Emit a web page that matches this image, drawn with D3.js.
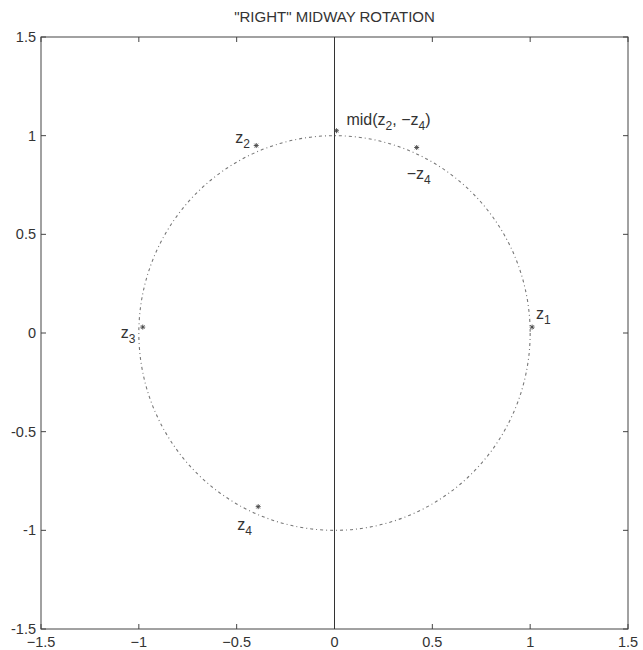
<!DOCTYPE html>
<html>
<head>
<meta charset="utf-8">
<script src="https://cdn.jsdelivr.net/npm/d3@7"></script>
<style>
  body { margin: 0; background: #fff; }
  text { font-family: "Liberation Sans", Arial, Helvetica, sans-serif; fill: #333; }
</style>
</head>
<body>
<svg id="chart" width="643" height="650"></svg>
<script>
// Axis limits and tick values
const xDomain = [-1.5, 1.5];
const yDomain = [-1.5, 1.5];
const xTicks = [-1.5, -1, -0.5, 0, 0.5, 1, 1.5];
const yTicks = [-1.5, -1, -0.5, 0, 0.5, 1, 1.5];
const xTickLabels = ["\u22121.5", "\u22121", "\u22120.5", "0", "0.5", "1", "1.5"];
const yTickLabels = ["-1.5", "-1", "-0.5", "0", "0.5", "1", "1.5"];

// Unit circle (centre and radius)
const circleCentre = [0, 0];
const circleRadius = 1;

// Marked points and their labels
const pointNames = ["z1", "z2", "z3", "z4", "-z4", "mid"];
const pointX = [1.01, -0.40, -0.98, -0.39, 0.42, 0.01];
const pointY = [0.03, 0.95, 0.03, -0.88, 0.94, 1.025];

const title = "\"RIGHT\" MIDWAY ROTATION";

const svg = d3.select("#chart");
const margin = { left: 41, right: 15, top: 37, bottom: 21 };
const W = 643, H = 650;

const x = d3.scaleLinear().domain(xDomain).range([margin.left, W - margin.right]);
const y = d3.scaleLinear().domain(yDomain).range([H - margin.bottom, margin.top]);

const axisColor = "#444";

// Frame
svg.append("rect")
  .attr("x", x(xDomain[0])).attr("y", y(yDomain[1]))
  .attr("width", x(xDomain[1]) - x(xDomain[0]))
  .attr("height", y(yDomain[0]) - y(yDomain[1]))
  .attr("fill", "none").attr("stroke", axisColor).attr("stroke-width", 1);

// Inward ticks on all four sides
const tl = 5;
const gx = svg.append("g");
xTicks.forEach(t => {
  gx.append("line").attr("x1", x(t)).attr("x2", x(t))
    .attr("y1", y(yDomain[0])).attr("y2", y(yDomain[0]) - tl)
    .attr("stroke", axisColor);
  gx.append("line").attr("x1", x(t)).attr("x2", x(t))
    .attr("y1", y(yDomain[1])).attr("y2", y(yDomain[1]) + tl)
    .attr("stroke", axisColor);
});
yTicks.forEach(t => {
  gx.append("line").attr("y1", y(t)).attr("y2", y(t))
    .attr("x1", x(xDomain[0])).attr("x2", x(xDomain[0]) + tl)
    .attr("stroke", axisColor);
  gx.append("line").attr("y1", y(t)).attr("y2", y(t))
    .attr("x1", x(xDomain[1])).attr("x2", x(xDomain[1]) - tl)
    .attr("stroke", axisColor);
});

// Tick labels
svg.append("g").selectAll("text").data(xTicks).join("text")
  .attr("x", d => x(d)).attr("y", y(yDomain[0]) + 18)
  .attr("text-anchor", "middle").attr("font-size", 14.5)
  .text((d, i) => xTickLabels[i]);
svg.append("g").selectAll("text").data(yTicks).join("text")
  .attr("x", x(xDomain[0]) - 5).attr("y", d => y(d) + 5)
  .attr("text-anchor", "end").attr("font-size", 14.5)
  .text((d, i) => yTickLabels[i]);

// Vertical line at x = 0
svg.append("line")
  .attr("x1", x(0)).attr("x2", x(0))
  .attr("y1", y(yDomain[0])).attr("y2", y(yDomain[1]))
  .attr("stroke", "#333").attr("stroke-width", 1);

// Dash-dot unit circle
svg.append("ellipse")
  .attr("cx", x(circleCentre[0])).attr("cy", y(circleCentre[1]))
  .attr("rx", x(circleRadius) - x(0)).attr("ry", y(0) - y(circleRadius))
  .attr("fill", "none").attr("stroke", "#777").attr("stroke-width", 1.1)
  .attr("stroke-dasharray", "3,3,1,3");

// Star markers
const asterisk = "M-2.5,0L2.5,0M0,-2.5L0,2.5M-1.8,-1.8L1.8,1.8M-1.8,1.8L1.8,-1.8";
svg.append("g").selectAll("path").data(pointX).join("path")
  .attr("transform", (d, i) => `translate(${x(d)},${y(pointY[i])})`)
  .attr("d", asterisk)
  .attr("stroke", "#444").attr("stroke-width", 0.9).attr("fill", "none");

// Labels with subscripts
const fs = 16, sfs = 12, sdy = 5;
function zLabel(px, py, pre, sub) {
  const t = svg.append("text").attr("x", px).attr("y", py).attr("font-size", fs);
  if (pre) t.append("tspan").text(pre);
  t.append("tspan").text("z");
  t.append("tspan").attr("font-size", sfs).attr("dy", sdy).text(sub);
  return t;
}
const idx = n => pointNames.indexOf(n);
zLabel(x(pointX[idx("z1")]) + 4, y(pointY[idx("z1")]) - 8, "", "1");
zLabel(x(pointX[idx("z2")]) - 21, y(pointY[idx("z2")]) - 3, "", "2");
zLabel(x(pointX[idx("z3")]) - 22, y(pointY[idx("z3")]) + 11, "", "3");
zLabel(x(pointX[idx("z4")]) - 21, y(pointY[idx("z4")]) + 23, "", "4");
zLabel(x(pointX[idx("-z4")]) - 10, y(pointY[idx("-z4")]) + 31, "\u2212", "4");

// mid(z2, -z4) label
{
  const m = idx("mid");
  const t = svg.append("text").attr("x", x(pointX[m]) + 10).attr("y", y(pointY[m]) - 6).attr("font-size", fs);
  t.append("tspan").text("mid(z");
  t.append("tspan").attr("font-size", sfs).attr("dy", sdy).text("2");
  t.append("tspan").attr("dy", -sdy).text(", \u2212z");
  t.append("tspan").attr("font-size", sfs).attr("dy", sdy).text("4");
  t.append("tspan").attr("dy", -sdy).text(")");
}

// Title
svg.append("text")
  .attr("x", (x(xDomain[0]) + x(xDomain[1])) / 2).attr("y", 22)
  .attr("text-anchor", "middle").attr("font-size", 15)
  .text(title);
</script>
</body>
</html>
